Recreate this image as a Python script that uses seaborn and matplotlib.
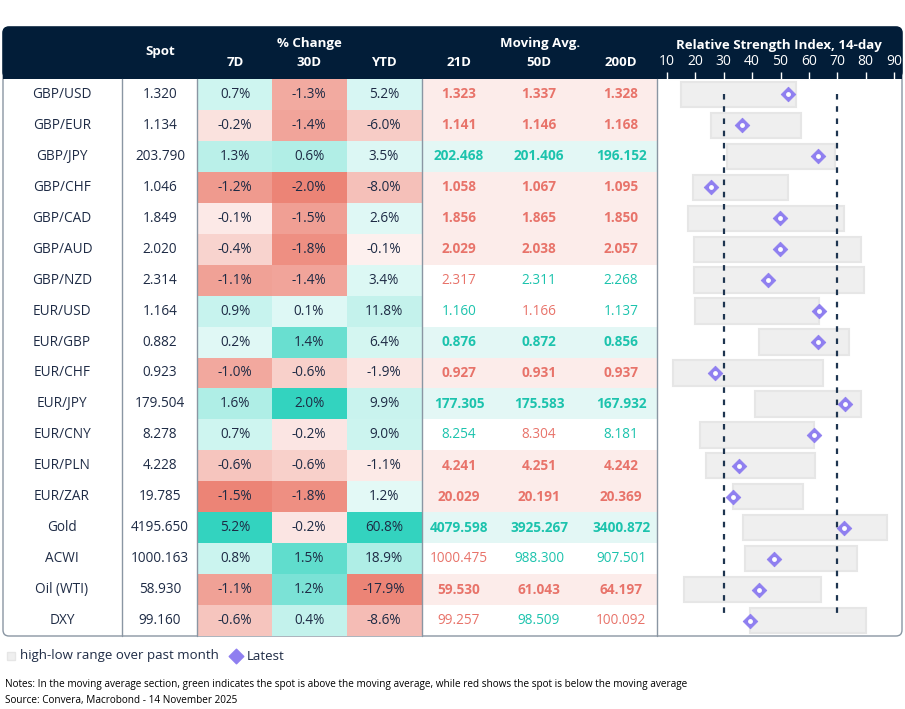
import numpy as np
import pandas as pd
import matplotlib
matplotlib.use("Agg")
import matplotlib.pyplot as plt
from matplotlib.patches import FancyBboxPatch, Rectangle
import seaborn as sns

sns.set_theme(style="white")
plt.rcParams['font.family'] = ['Open Sans', 'DejaVu Sans']

pairs = ["GBP/USD","GBP/EUR","GBP/JPY","GBP/CHF","GBP/CAD","GBP/AUD","GBP/NZD","EUR/USD","EUR/GBP",
         "EUR/CHF","EUR/JPY","EUR/CNY","EUR/PLN","EUR/ZAR","Gold","ACWI","Oil (WTI)","DXY"]
spot = [1.320,1.134,203.790,1.046,1.849,2.020,2.314,1.164,0.882,0.923,179.504,8.278,4.228,19.785,4195.650,1000.163,58.930,99.160]
chg7 = [0.7,-0.2,1.3,-1.2,-0.1,-0.4,-1.1,0.9,0.2,-1.0,1.6,0.7,-0.6,-1.5,5.2,0.8,-1.1,-0.6]
chg30 = [-1.3,-1.4,0.6,-2.0,-1.5,-1.8,-1.4,0.1,1.4,-0.6,2.0,-0.2,-0.6,-1.8,-0.2,1.5,1.2,0.4]
chgytd = [5.2,-6.0,3.5,-8.0,2.6,-0.1,3.4,11.8,6.4,-1.9,9.9,9.0,-1.1,1.2,60.8,18.9,-17.9,-8.6]
ma21 = [1.323,1.141,202.468,1.058,1.856,2.029,2.317,1.160,0.876,0.927,177.305,8.254,4.241,20.029,4079.598,1000.475,59.530,99.257]
ma50 = [1.337,1.146,201.406,1.067,1.865,2.038,2.311,1.166,0.872,0.931,175.583,8.304,4.251,20.191,3925.267,988.300,61.043,98.509]
ma200 = [1.328,1.168,196.152,1.095,1.850,2.057,2.268,1.137,0.856,0.937,167.932,8.181,4.242,20.369,3400.872,907.501,64.197,100.092]
rsi_low = [14.9,25.5,31.1,19.2,17.4,19.5,19.5,19.9,42.4,12.1,41.0,21.6,23.7,33.2,36.8,37.5,16.0,39.2]
rsi_high = [55.4,57.2,69.2,52.6,72.3,78.3,79.4,63.5,74.1,64.9,78.3,61.8,62.1,57.9,87.5,76.9,64.2,80.1]
rsi_last = [52.6,36.4,63.2,25.5,49.8,49.8,45.6,63.5,63.2,26.9,72.7,61.8,35.4,33.2,72.3,47.7,42.4,39.2]
rsi_ticks = [10,20,30,40,50,60,70,80,90]

NAVY = "#021d38"; TXT = "#1e2b45"; GREEN = "#1cc3ad"; RED = "#e8736a"
POS = np.array(matplotlib.colors.to_rgb("#33d3bf")); NEG = np.array(matplotlib.colors.to_rgb("#ec8476"))

W, H = 905, 709
fig = plt.figure(figsize=(W/100, H/100), dpi=100)
ax = fig.add_axes([0, 0, 1, 1])
ax.set_xlim(0, W); ax.set_ylim(H, 0); ax.axis("off")

top, bot, rh = 79, 636, (636-79)/18
box = FancyBboxPatch((3, 27), 899, 609, boxstyle="round,pad=0,rounding_size=6", fc="white", ec="#8a96a3", lw=1, zorder=0)
ax.add_patch(box)
hdr = FancyBboxPatch((3, 27), 899, 51, boxstyle="round,pad=0,rounding_size=6", fc=NAVY, ec=NAVY, lw=1, zorder=1)
ax.add_patch(hdr)
ax.add_patch(Rectangle((3, 60), 899, 19, fc=NAVY, ec="none", zorder=1))

hb = dict(color="white", fontsize=9.5, fontweight="bold", ha="center", va="center", zorder=5)
ax.text(160, 52, "Spot", **hb)
ax.text(309, 43, "% Change", **hb)
for x, t in [(235, "7D"), (309, "30D"), (384, "YTD"), (459, "21D"), (539, "50D"), (621, "200D")]:
    ax.text(x, 62, t, **hb)
ax.text(540, 43, "Moving Avg.", **hb)
ax.text(779, 45, "Relative Strength Index, 14-day", **hb)

def cell_color(v, col):
    same = [abs(c) for c in col if (c > 0) == (v > 0)]
    r = abs(v) / max(same) if same else 0
    r = 0.12 + 0.88 * r
    base = POS if v > 0 else NEG
    return tuple(1 - (1 - base) * r)

FS = 9.8
colx = [(197, 272, chg7, 235), (272, 347, chg30, 309), (347, 422, chgytd, 384)]
for i in range(len(pairs)):
    y0 = top + i * rh; yc = y0 + rh / 2
    ax.text(62, yc, pairs[i], color=TXT, fontsize=FS, ha="center", va="center")
    ax.text(160, yc, f"{spot[i]:.3f}", color=TXT, fontsize=FS, ha="center", va="center")
    for x0, x1, col, xc in colx:
        ax.add_patch(Rectangle((x0, y0), x1 - x0, rh, fc=cell_color(col[i], col), ec="none", zorder=1))
        ax.text(xc, yc, f"{col[i]:.1f}%", color=TXT, fontsize=FS, ha="center", va="center", zorder=5)
    mas = [ma21[i], ma50[i], ma200[i]]
    above = [spot[i] > m for m in mas]
    uniform = all(above) or not any(above)
    if uniform:
        ax.add_patch(Rectangle((422, y0), 235, rh, fc="#e3f7f5" if above[0] else "#fcecea", ec="none", zorder=1))
    for m, a, xc in zip(mas, above, [459, 539, 621]):
        ax.text(xc, yc, f"{m:.3f}", color=GREEN if a else RED, fontsize=FS,
                fontweight="bold" if uniform else "normal", ha="center", va="center", zorder=5)

for x in [122, 197, 422, 657]:
    ax.plot([x, x], [top, bot], color="#8a96a3", lw=1, zorder=4)

# RSI panel
x_l, x_r = 667, 894
rax = fig.add_axes([x_l / W, 1 - bot / H, (x_r - x_l) / W, (bot - top) / H])
rax.set_xlim(10, 90); rax.set_ylim(len(pairs) - 0.5, -0.5)
rax.patch.set_alpha(0)
for s in rax.spines.values():
    s.set_visible(False)
df = pd.DataFrame({"pair": pairs, "low": rsi_low, "high": rsi_high, "last": rsi_last, "pos": np.arange(len(pairs))})
rax.barh(df["pos"], df["high"] - df["low"], left=df["low"], height=0.82, color="#efefef", edgecolor="#e6e6e6", lw=1.5)
rax.plot([30, 30], [0, 16.8], ls=(0, (2.5, 3)), color="#1e3550", lw=1.6)
rax.plot([70, 70], [0, 16.8], ls=(0, (2.5, 3)), color="#1e3550", lw=1.6)
sns.scatterplot(data=df, x="last", y="pos", marker="D", s=55, color="#8f7ff0", edgecolor="#8f7ff0", ax=rax, zorder=5, legend=False)
rax.scatter(df["last"], df["pos"], s=6, color="white", zorder=6)
rax.set_yticks([]); rax.set_xlabel(""); rax.set_ylabel("")
rax.xaxis.tick_top()
rax.set_xticks(rsi_ticks)
rax.tick_params(axis="x", colors="white", labelcolor="white", labelsize=10, length=5, width=1, pad=2, top=True, bottom=False)

# legend + notes
ax.add_patch(Rectangle((7, 652), 8, 8, fc="#efefef", ec="#e6e6e6"))
ax.text(20, 656, "high-low range over past month", color=TXT, fontsize=9.5, va="center")
ax.scatter([236], [656], marker="D", s=55, color="#8f7ff0", zorder=5)
ax.text(247, 656, "Latest", color=TXT, fontsize=9.5, va="center")
ax.text(5, 685, "Notes: In the moving average section, green indicates the spot is above the moving average, while red shows the spot is below the moving average",
        color="black", fontsize=7.2, va="center")
ax.text(5, 700, "Source: Convera, Macrobond - 14 November 2025", color="black", fontsize=7.2, va="center")

fig.savefig("out.png", dpi=100)
